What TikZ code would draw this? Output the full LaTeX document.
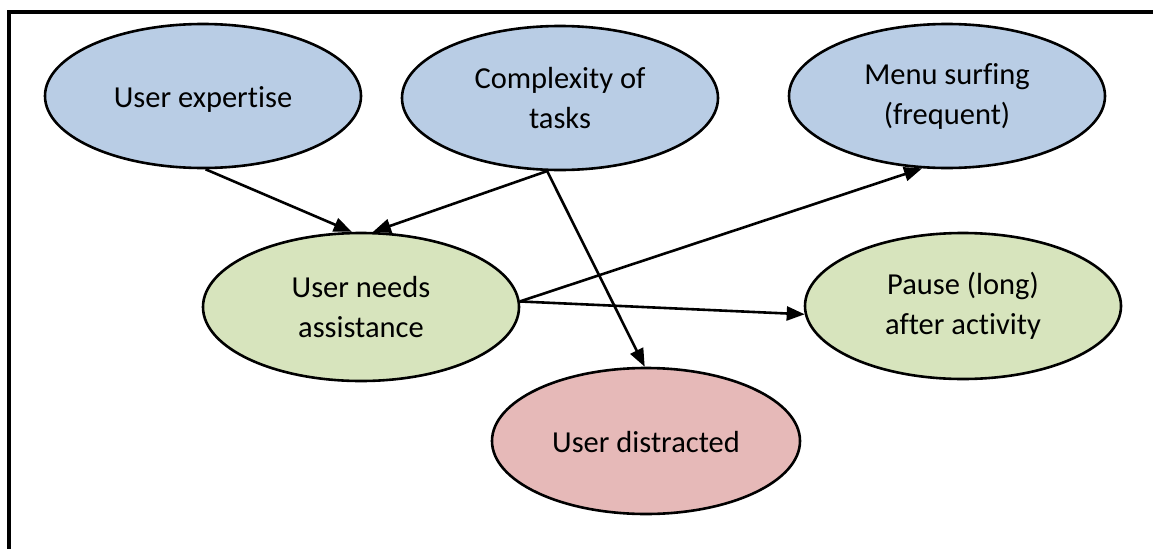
\documentclass[tikz,border=0pt]{standalone}
\usepackage{fontspec}
\setmainfont{Carlito}[Ligatures=NoCommon]
\usetikzlibrary{shapes.geometric,arrows.meta}

\definecolor{causefill}{HTML}{B9CDE5}
\definecolor{effectfill}{HTML}{D7E4BD}
\definecolor{alertfill}{HTML}{E6B9B8}

\tikzset{
  oval/.style={ellipse, draw=black, line width=2.6pt, inner sep=0pt,
    minimum width=316pt, minimum height=144pt, align=center,
    font=\fontsize{30.5}{40}\selectfont},
  oneline/.style={text height=26pt, text depth=3pt},
  cause/.style={oval, fill=causefill},
  effect/.style={oval, fill=effectfill},
  alert/.style={oval, fill=alertfill, minimum width=308pt, minimum height=146pt},
  link/.style={line width=2.6pt, -{Triangle[length=18pt,width=14pt]}},
  frameline/.style={line width=4pt}
}

\begin{document}
\begin{tikzpicture}[x=1pt,y=-1pt]
  \useasboundingbox (0,0) rectangle (1153,549);

  % open frame: top and left edges only
  \coordinate (fTL) at (9,11.5);
  \coordinate (fTR) at (1153,11.5);
  \coordinate (fBL) at (9,549);
  \draw[frameline] (fTR) -- (fTL) -- (fBL);

  % top row
  \node[cause, oneline] (ue) at (203,96) {User expertise};
  \node[cause] (cx) at (560,98) {Complexity of\\tasks};
  \node[cause] (ms) at (947,96) {Menu surfing\\(frequent)};

  % middle row
  \node[effect, minimum height=148pt] (un) at (361,307) {User needs\\assistance};
  \node[effect, minimum height=146pt] (pa) at (963,306) {Pause (long)\\after activity};

  % bottom
  \node[alert, oneline] (ud) at (646,441) {User distracted};

  % dependencies
  \draw[link] (ue.272) -- (un.97);
  \draw[link] (cx.260) -- (un.81);
  \draw[link] (cx.260) -- (ud.91);
  \draw[link] (un.2) -- (ms.251);
  \draw[link] (un.2) -- (pa.183);
\end{tikzpicture}
\end{document}
